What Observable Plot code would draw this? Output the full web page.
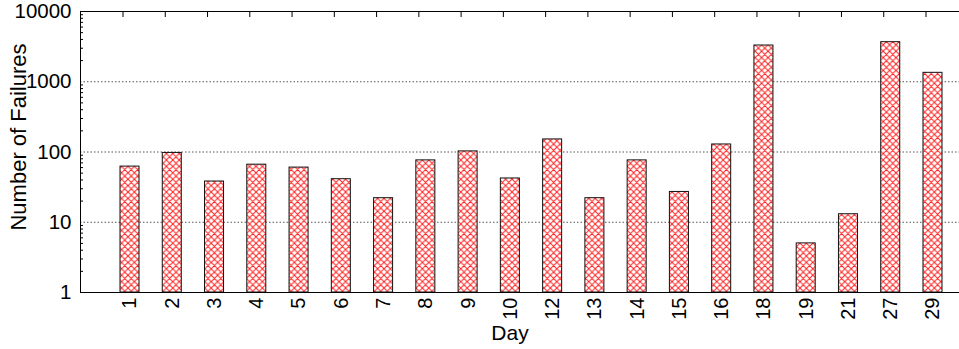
<!DOCTYPE html>
<html><head><meta charset="utf-8">
<script src="https://cdn.jsdelivr.net/npm/d3@7"></script>
<script src="https://cdn.jsdelivr.net/npm/@observablehq/plot@0.6"></script>
<style>html,body{margin:0;padding:0;background:#fff;overflow:hidden}</style>
</head><body><div id="chart"></div>
<script>
const days = ["1","2","3","4","5","6","7","8","9","10","12","13","14","15","16","18","19","21","27","29"];
const failures = [62, 97, 38, 66, 60, 41, 22, 76, 102, 42, 151, 22, 76, 27, 128, 3280, 5, 13, 3660, 1340];
const yTickValues = [1, 10, 100, 1000, 10000];
const yGridValues = [10, 100, 1000];
const yMinorValues = [1, 10, 100, 1000].flatMap(d => [2,3,4,5,6,7,8,9].map(k => k * d));
const xLabel = "Day";
const yLabel = "Number of Failures";

const data = days.map((day, i) => ({day, value: failures[i]}));

const chart = Plot.plot({
  width: 959,
  height: 349,
  marginLeft: 80,
  marginRight: 0,
  marginTop: 11,
  marginBottom: 57,
  style: {fontFamily: "'Liberation Sans', Arial, sans-serif", fontSize: "20px", color: "black", background: "white"},
  x: {type: "band", domain: days, range: [120, 942], paddingInner: 0.55, paddingOuter: 0, round: false},
  y: {type: "log", domain: [1, 10000]},
  marks: [
    Plot.ruleY(yGridValues, {stroke: "#555", strokeDasharray: "1.5,2", strokeWidth: 1}),
    Plot.barY(data, {x: "day", y1: 1, y2: "value", fill: "url(#hatch)", stroke: "#111", strokeWidth: 1}),
    Plot.frame({stroke: "black", strokeWidth: 1}),
    Plot.axisX({anchor: "bottom", tickSize: 0, tickPadding: 5, tickRotate: -90, fontSize: 20, label: null}),
    Plot.axisX({anchor: "top", tickSize: -5, tickFormat: () => "", label: null, dx: -7}),
    Plot.axisY({anchor: "left", ticks: yTickValues, tickSize: 0, tickPadding: 9, tickFormat: d => String(d), fontSize: 20.5, label: null}),
    Plot.axisY({anchor: "left", ticks: yMinorValues, tickSize: -3, tickFormat: () => "", label: null}),
    Plot.text([yLabel], {text: d => d, frameAnchor: "left", textAnchor: "middle", rotate: -90, dx: -62, dy: -15, fontSize: 22}),
    Plot.text([xLabel], {text: d => d, frameAnchor: "bottom", textAnchor: "middle", dx: -10, dy: 47, lineAnchor: "bottom", fontSize: 21})
  ]
});

const defs = d3.select(chart).insert("defs", ":first-child");
const s = 6.4;
const pat = defs.append("pattern").attr("id", "hatch").attr("patternUnits", "userSpaceOnUse")
  .attr("width", s).attr("height", s);
pat.append("rect").attr("width", s).attr("height", s).attr("fill", "white");
pat.append("path")
  .attr("d", `M0,0L${s},${s}M${s},0L0,${s}M${s-1},-1L${s+1},1M-1,${s-1}L1,${s+1}M-1,1L1,-1M${s-1},${s+1}L${s+1},${s-1}`)
  .attr("stroke", "#ff2020").attr("stroke-width", 1).attr("fill", "none");

document.getElementById("chart").appendChild(chart);
</script>
</body></html>
